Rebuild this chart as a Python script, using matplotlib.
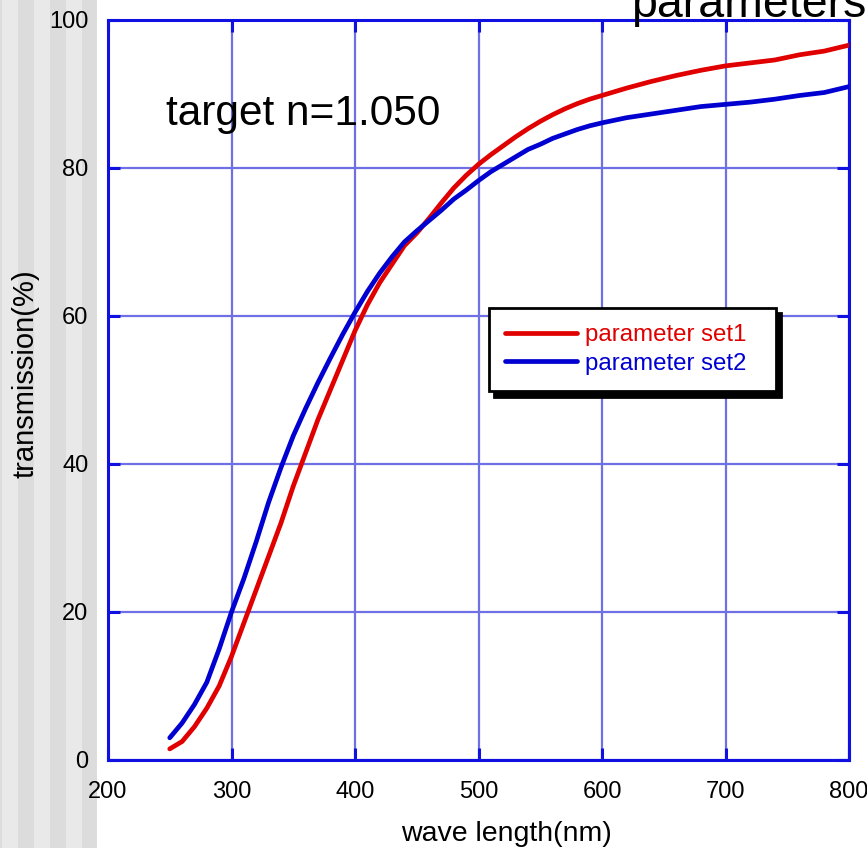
import numpy as np
import matplotlib
matplotlib.use("Agg")
import matplotlib.pyplot as plt
from matplotlib.patches import Rectangle

plt.rcParams['font.family'] = ['Liberation Sans', 'DejaVu Sans']

# Данные
wavelength = [250, 260, 270, 280, 290, 300, 310, 320, 330, 340,
              350, 360, 370, 380, 390, 400, 410, 420, 430, 440,
              450, 460, 470, 480, 490, 500, 510, 520, 530, 540,
              550, 560, 570, 580, 590, 600, 620, 640, 660, 680,
              700, 720, 740, 760, 780, 800]
set1 = [1.5, 2.5, 4.5, 7.0, 10.0, 14.0, 18.5, 23.0, 27.5, 32.0,
        37.0, 41.5, 46.0, 50.0, 54.0, 58.0, 61.5, 64.5, 67.0, 69.5,
        71.2, 73.2, 75.3, 77.3, 79.0, 80.5, 81.8, 83.0, 84.2, 85.3,
        86.3, 87.2, 88.0, 88.7, 89.3, 89.8, 90.8, 91.7, 92.5, 93.2,
        93.8, 94.2, 94.6, 95.3, 95.8, 96.6]
set2 = [3.0, 5.0, 7.5, 10.5, 15.0, 20.0, 24.5, 29.5, 34.8, 39.5,
        43.8, 47.5, 51.0, 54.3, 57.5, 60.5, 63.3, 65.8, 68.0, 70.0,
        71.5, 72.9, 74.3, 75.8, 77.0, 78.3, 79.5, 80.5, 81.5, 82.5,
        83.2, 84.0, 84.6, 85.2, 85.7, 86.1, 86.8, 87.3, 87.8, 88.3,
        88.6, 88.9, 89.3, 89.8, 90.2, 91.0]
labels = ['parameter set1', 'parameter set2']
xticks = [200, 300, 400, 500, 600, 700, 800]
yticks = [0, 20, 40, 60, 80, 100]

# Фигура
fig = plt.figure(figsize=(8.67, 8.48), dpi=100)
fig.patch.set_facecolor('white')

# Полосатый фон слева (фон слайда)
W, H = 867, 848
fig.patches.append(Rectangle((0, 0), 97 / W, 1, transform=fig.transFigure,
                             facecolor='#dcdcdc', edgecolor='none', zorder=-10))
for x0 in range(2, 97, 32):
    fig.patches.append(Rectangle((x0 / W, 0), 16 / W, 1, transform=fig.transFigure,
                                 facecolor='#e9e9e9', edgecolor='none', zorder=-9))

ax = fig.add_axes([108 / W, 1 - 760 / H, 741 / W, 740 / H])
ax.set_facecolor('white')

ax.plot(wavelength, set1, color='#e00000', linewidth=3.4, label=labels[0],
        solid_capstyle='round', zorder=3)
ax.plot(wavelength, set2, color='#0000d0', linewidth=3.4, label=labels[1],
        solid_capstyle='round', zorder=3)

ax.set_xlim(200, 800)
ax.set_ylim(0, 100)
ax.set_xticks(xticks)
ax.set_yticks(yticks)
ax.grid(True, color='#7070e6', linewidth=1.6, zorder=1)

spine_color = '#1010e0'
for s in ax.spines.values():
    s.set_color(spine_color)
    s.set_linewidth(2.2)
ax.tick_params(direction='in', length=8.5, width=2.2, color=spine_color,
               top=True, right=True, labelsize=17, pad=14)
ax.tick_params(axis='x', pad=15)

ax.set_xlabel('wave length(nm)', fontsize=20.5)
ax.xaxis.set_label_coords(0.538, -0.083)
ax.set_ylabel('transmission(%)', fontsize=21)
ax.yaxis.set_label_coords(-0.093, 0.522)

ax.text(247, 85.8, 'target n=1.050', fontsize=30.5, va='baseline', ha='left', zorder=4)
fig.text(631 / W, 1 - 17 / H, 'parameters', fontsize=33.5, va='baseline', ha='left')

leg = ax.legend(loc='upper left', bbox_to_anchor=(0.514, 0.503, 0.387, 0.108),
                mode='expand', borderaxespad=0,
                fontsize=17.3, labelcolor='linecolor', fancybox=False,
                edgecolor='black', framealpha=1, handlelength=3.0,
                handletextpad=0.3, borderpad=0.68, labelspacing=0.27,
                shadow={'ox': 4, 'oy': -4, 'facecolor': 'black',
                        'edgecolor': 'black', 'alpha': 1})
leg.get_frame().set_linewidth(2.0)
leg.set_zorder(5)

fig.savefig('out.png', dpi=100)
